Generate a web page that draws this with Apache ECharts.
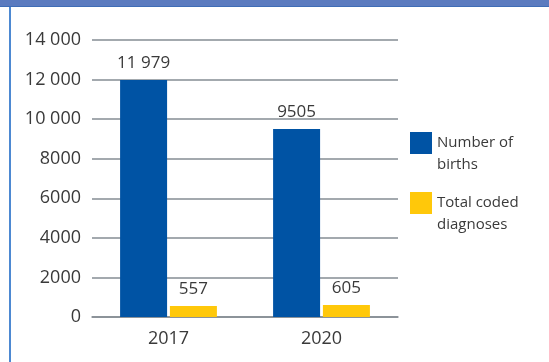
<!DOCTYPE html>
<html>
<head>
<meta charset="utf-8">
<script src="https://cdn.jsdelivr.net/npm/echarts@6/dist/echarts.min.js"></script>
<style>html,body{margin:0;padding:0;background:#fff;}#c{width:549px;height:362px;}</style>
</head>
<body>
<div id="c"></div>
<script>
const categories = ['2017', '2020'];
const births = [11979, 9505];
const diagnoses = [557, 605];
const seriesNames = ['Number of births', 'Total coded diagnoses'];
const legendLabels = {'Number of births': '\u00a0\nNumber of\nbirths', 'Total coded diagnoses': '\u00a0\nTotal coded\ndiagnoses'};
const yTicks = [0, 2000, 4000, 6000, 8000, 10000, 12000, 14000];

function fmt(v) {
  const s = String(v);
  if (v >= 10000) return s.slice(0, s.length - 3) + ' ' + s.slice(-3);
  return s;
}
const FONT = '"Open Sans", "Noto Sans", sans-serif';
const chart = echarts.init(document.getElementById('c'), null, {renderer: 'canvas'});
chart.setOption({
  animation: false,
  textStyle: {fontFamily: FONT},
  grid: {left: 92, right: 151, top: 40, bottom: 45},
  graphic: [
    {type: 'rect', shape: {x: 0, y: 0, width: 549, height: 7}, style: {fill: '#5b7bbf'}, z: 10},
    {type: 'rect', shape: {x: 0, y: 6, width: 549, height: 1}, style: {fill: '#3f6db6'}, z: 11},
    {type: 'rect', shape: {x: 9, y: 7, width: 2, height: 355}, style: {fill: '#4d89d2'}, z: 10}
  ],
  legend: {
    orient: 'vertical',
    left: 410, top: 110, padding: 0,
    itemWidth: 22, itemHeight: 22, itemGap: -6,
    icon: 'rect',
    data: seriesNames,
    formatter: n => legendLabels[n],
    textStyle: {fontSize: 15, color: '#3a3a3a', lineHeight: 22, fontFamily: FONT}
  },
  xAxis: {
    type: 'category',
    data: categories,
    axisTick: {show: false},
    axisLine: {lineStyle: {color: '#858c93', width: 1.5}},
    axisLabel: {color: '#3a3a3a', fontSize: 18, margin: 13, fontFamily: FONT}
  },
  yAxis: {
    type: 'value',
    min: yTicks[0], max: yTicks[yTicks.length - 1], interval: 2000,
    axisLine: {show: false},
    axisTick: {show: false},
    axisLabel: {color: '#3a3a3a', fontSize: 18, margin: 11, formatter: fmt, fontFamily: FONT},
    splitLine: {lineStyle: {color: '#858c93', width: 1.5}}
  },
  series: [
    {
      name: seriesNames[0], type: 'bar', data: births,
      barWidth: 47, barGap: '6%',
      itemStyle: {color: '#0053a4'},
      label: {show: true, position: 'top', distance: 8, color: '#3a3a3a', fontSize: 17, formatter: p => fmt(p.value), fontFamily: FONT}
    },
    {
      name: seriesNames[1], type: 'bar', data: diagnoses,
      barWidth: 47, barGap: '6%',
      itemStyle: {color: '#ffc80a'},
      label: {show: true, position: 'top', distance: 8, color: '#3a3a3a', fontSize: 17, formatter: p => fmt(p.value), fontFamily: FONT}
    }
  ]
});
</script>
</body>
</html>
